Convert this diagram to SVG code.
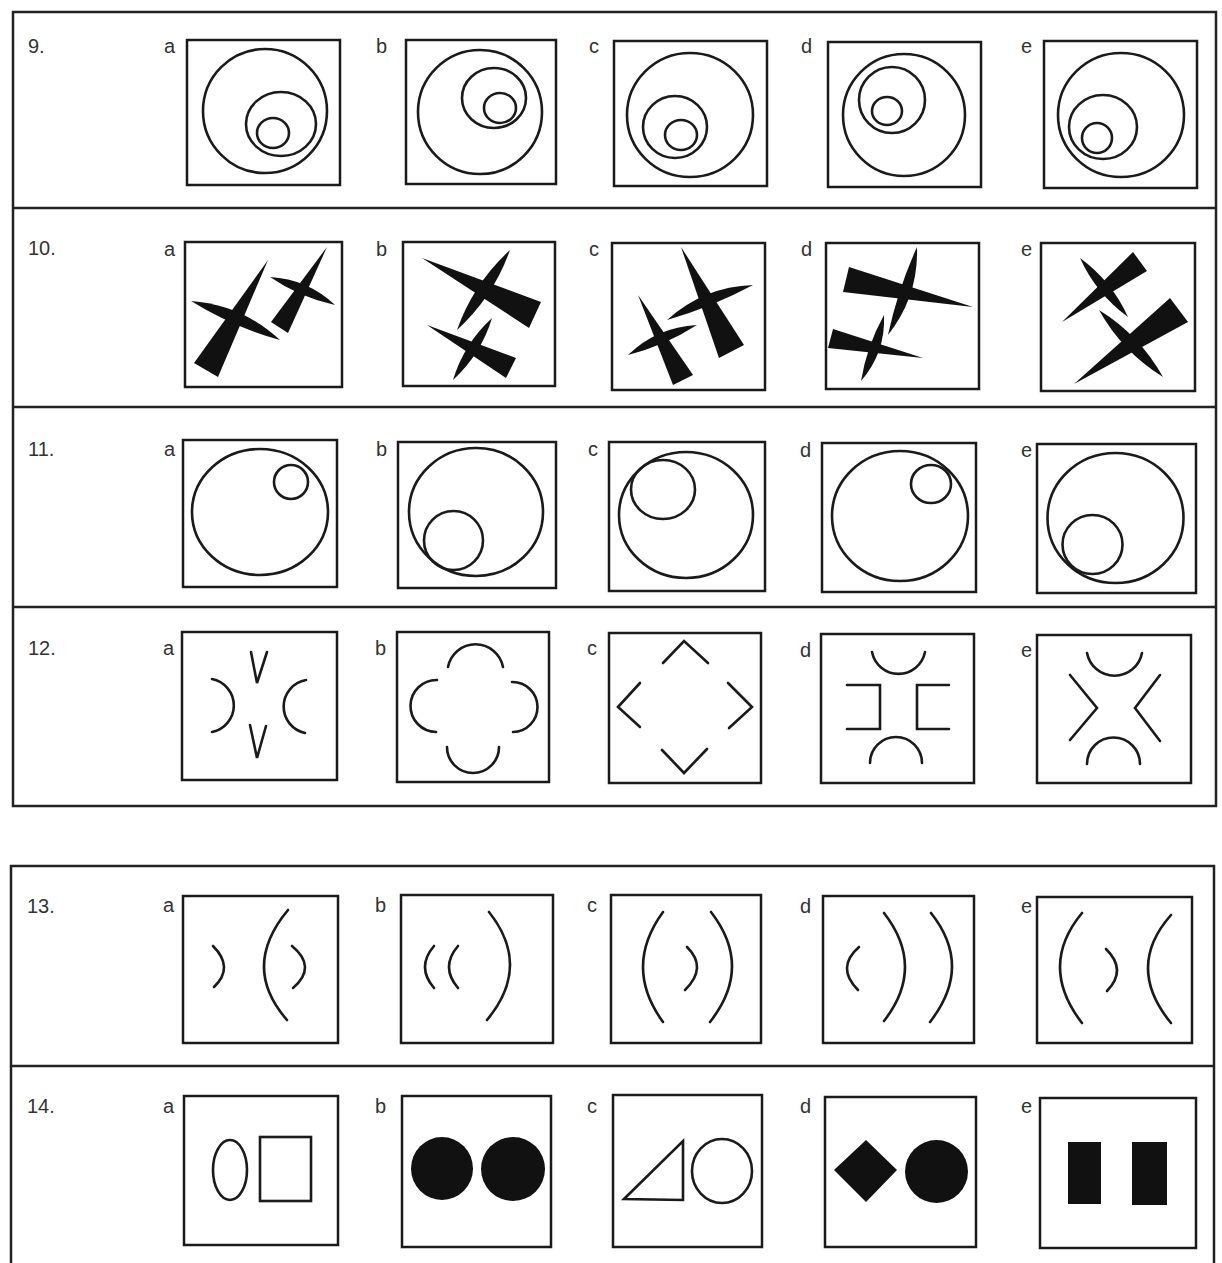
<svg xmlns="http://www.w3.org/2000/svg" width="1222" height="1263" viewBox="0 0 1222 1263">
<style>
.frame{fill:none;stroke:#222;stroke-width:2.5}
.box{fill:none;stroke:#1a1a1a;stroke-width:2.5}
.ln{fill:none;stroke:#1a1a1a;stroke-width:2.6;stroke-linecap:round;stroke-linejoin:miter}
.blk{fill:#111;stroke:none}
.lbl{font-family:"Liberation Sans",Arial,sans-serif;font-size:20px;fill:#333}
</style>
<rect width="1222" height="1263" fill="#ffffff"/>
<g id="frames">
<rect class="frame" x="13" y="12" width="1203" height="794"/>
<line class="frame" x1="13" y1="208" x2="1216" y2="208"/>
<line class="frame" x1="13" y1="407" x2="1216" y2="407"/>
<line class="frame" x1="13" y1="607" x2="1216" y2="607"/>
<polyline class="frame" points="11,1263 11,866 1214,866 1214,1263"/>
<line class="frame" x1="11" y1="1066" x2="1214" y2="1066"/>
</g>
<g id="numbers">
<text class="lbl" x="28" y="53">9.</text>
<text class="lbl" x="28" y="255">10.</text>
<text class="lbl" x="28" y="456">11.</text>
<text class="lbl" x="28" y="655">12.</text>
<text class="lbl" x="27" y="913">13.</text>
<text class="lbl" x="27" y="1113">14.</text>
</g>
<!-- Row 9 -->
<g id="q9a"><text class="lbl" x="164" y="53">a</text><rect class="box" x="187" y="40" width="153" height="145"/>
<circle class="ln" cx="265" cy="111" r="62"/><ellipse class="ln" cx="281" cy="124" rx="35" ry="32"/><ellipse class="ln" cx="273" cy="133" rx="16" ry="15"/></g>
<g id="q9b"><text class="lbl" x="376" y="53">b</text><rect class="box" x="406" y="40" width="150" height="144"/>
<circle class="ln" cx="480" cy="112" r="62"/><ellipse class="ln" cx="494" cy="98" rx="32" ry="30"/><ellipse class="ln" cx="500" cy="108" rx="16" ry="15"/></g>
<g id="q9c"><text class="lbl" x="589" y="53">c</text><rect class="box" x="614" y="41" width="153" height="145"/>
<ellipse class="ln" cx="690" cy="115" rx="63" ry="62"/><ellipse class="ln" cx="675" cy="127" rx="32" ry="31"/><ellipse class="ln" cx="681" cy="135" rx="16" ry="15"/></g>
<g id="q9d"><text class="lbl" x="801" y="53">d</text><rect class="box" x="828" y="42" width="153" height="145"/>
<circle class="ln" cx="904" cy="115" r="61"/><circle class="ln" cx="892" cy="100" r="33"/><ellipse class="ln" cx="887" cy="111" rx="15" ry="14"/></g>
<g id="q9e"><text class="lbl" x="1021" y="53">e</text><rect class="box" x="1044" y="41" width="153" height="147"/>
<ellipse class="ln" cx="1121" cy="115" rx="63" ry="62"/><ellipse class="ln" cx="1103" cy="127" rx="34" ry="32"/><circle class="ln" cx="1097" cy="138" r="15"/></g>
<!-- Row 10 -->
<g id="q10a"><text class="lbl" x="164" y="256">a</text><rect class="box" x="185" y="242" width="157" height="145"/>
<polygon class="blk" points="194,363 218,377 268,260"/>
<path class="blk" d="M191,301 Q232.7,326.9 280,340 Q242.3,304.9 191,301 Z"/>
<polygon class="blk" points="271,322 288,333 327,247"/>
<path class="blk" d="M270,277 Q299.7,297.4 335,305 Q307.6,279.1 270,277 Z"/></g>
<g id="q10b"><text class="lbl" x="376" y="256">b</text><rect class="box" x="403" y="242" width="152" height="144"/>
<polygon class="blk" points="541,302 529,328 422,258"/>
<path class="blk" d="M510,250 Q473.5,283.4 457,330 Q493.5,296.6 510,250 Z"/>
<polygon class="blk" points="516,358 506,378 427,325"/>
<path class="blk" d="M492,318 Q464,343.7 453,380 Q481,354.3 492,318 Z"/></g>
<g id="q10c"><text class="lbl" x="589" y="256">c</text><rect class="box" x="612" y="243" width="153" height="147"/>
<polygon class="blk" points="744,345 719,358 681,247"/>
<path class="blk" d="M667,320 Q711.9,307.1 753,285 Q703.6,286.7 667,320 Z"/>
<polygon class="blk" points="693,375 673,385 638,295"/>
<path class="blk" d="M628,355 Q664.9,345.5 697,325 Q656.9,327.1 628,355 Z"/></g>
<g id="q10d"><text class="lbl" x="801" y="256">d</text><rect class="box" x="826" y="243" width="153" height="146"/>
<polygon class="blk" points="849,267 843,292 973,307"/>
<path class="blk" d="M917,247 Q897.8,289.4 888,335 Q918.6,296.3 917,247 Z"/>
<polygon class="blk" points="833,329 828,348 923,358"/>
<path class="blk" d="M884,315 Q866.8,346 861,381 Q885.7,352.6 884,315 Z"/></g>
<g id="q10e"><text class="lbl" x="1021" y="256">e</text><rect class="box" x="1041" y="243" width="154" height="148"/>
<polygon class="blk" points="1147,271 1133,252 1062,322"/>
<path class="blk" d="M1080,258 Q1096.2,293.8 1128,317 Q1111.8,281.2 1080,258 Z"/>
<polygon class="blk" points="1188,322 1170,298 1074,384"/>
<path class="blk" d="M1099,310 Q1122.3,351.8 1163,377 Q1139.7,335.2 1099,310 Z"/></g>
<!-- Row 11 -->
<g id="q11a"><text class="lbl" x="164" y="456">a</text><rect class="box" x="183" y="440" width="154" height="147"/>
<ellipse class="ln" cx="260" cy="512" rx="68" ry="63"/><circle class="ln" cx="291" cy="482" r="17"/></g>
<g id="q11b"><text class="lbl" x="376" y="456">b</text><rect class="box" x="398" y="442" width="158" height="146"/>
<ellipse class="ln" cx="476" cy="512" rx="67" ry="64"/><circle class="ln" cx="453.5" cy="540.5" r="29.5"/></g>
<g id="q11c"><text class="lbl" x="588" y="456">c</text><rect class="box" x="609" y="442" width="156" height="149"/>
<ellipse class="ln" cx="686" cy="515" rx="67" ry="63"/><ellipse class="ln" cx="663" cy="489.5" rx="32" ry="29.5"/></g>
<g id="q11d"><text class="lbl" x="800" y="457">d</text><rect class="box" x="822" y="443" width="154" height="149"/>
<ellipse class="ln" cx="900" cy="516" rx="68" ry="65"/><ellipse class="ln" cx="931" cy="484" rx="20" ry="19"/></g>
<g id="q11e"><text class="lbl" x="1021" y="457">e</text><rect class="box" x="1037" y="444" width="159" height="149"/>
<ellipse class="ln" cx="1115.5" cy="518" rx="68" ry="65"/><ellipse class="ln" cx="1092.5" cy="544.5" rx="30" ry="29.5"/></g>
<!-- Row 12 -->
<g id="q12a"><text class="lbl" x="163" y="655">a</text><rect class="box" x="182" y="632" width="155" height="148"/>
<path class="ln" d="M212,679 A27,27 0 0 1 212,732"/><path class="ln" d="M306,680 A27,27 0 0 0 305,733"/>
<polyline class="ln" points="251,652 257,683 267,652"/><polyline class="ln" points="250,725 257,758 266,726"/></g>
<g id="q12b"><text class="lbl" x="375" y="655">b</text><rect class="box" x="397" y="632" width="152" height="150"/>
<path class="ln" d="M448,667 A28,28 0 0 1 503,667"/><path class="ln" d="M447,747 A26,26 0 0 0 499,747"/>
<path class="ln" d="M437,680 A26,26 0 0 0 436,732"/><path class="ln" d="M512,682 A25,25 0 0 1 513,732"/></g>
<g id="q12c"><text class="lbl" x="587" y="655">c</text><rect class="box" x="609" y="633" width="152" height="150"/>
<polyline class="ln" points="663,663 684,641 708,663"/><polyline class="ln" points="640,683 618,707 640,727"/>
<polyline class="ln" points="728,683 752,707 729,728"/><polyline class="ln" points="662,750 684,773 707,749"/></g>
<g id="q12d"><text class="lbl" x="800" y="657">d</text><rect class="box" x="821" y="634" width="153" height="149"/>
<path class="ln" d="M872,652 A27,27 0 0 0 925,652"/><path class="ln" d="M870,763 A26,26 0 0 1 922,763"/>
<polyline class="ln" points="847,685 880,685 880,729 847,729"/><polyline class="ln" points="949,685 917,685 917,729 949,729"/></g>
<g id="q12e"><text class="lbl" x="1021" y="657">e</text><rect class="box" x="1037" y="635" width="154" height="148"/>
<path class="ln" d="M1087,653 A28,28 0 0 0 1142,653"/><path class="ln" d="M1087,764 A26.5,26.5 0 0 1 1140,764"/>
<polyline class="ln" points="1070,675 1097,708 1070,740"/><polyline class="ln" points="1160,675 1135,708 1160,741"/></g>
<!-- Row 13 -->
<g id="q13a"><text class="lbl" x="163" y="912">a</text><rect class="box" x="183" y="896" width="155" height="147"/>
<path class="ln" d="M213,946 Q234.5,967.5 214,987"/><path class="ln" d="M288,910 Q240.5,967 287,1020"/><path class="ln" d="M292,946 Q317.5,967 293,988"/></g>
<g id="q13b"><text class="lbl" x="375" y="912">b</text><rect class="box" x="401" y="895" width="152" height="148"/>
<path class="ln" d="M434,946 Q416,967 434,988"/><path class="ln" d="M458,946 Q440,967 458,988"/><path class="ln" d="M489,912 Q532,966 487,1020"/></g>
<g id="q13c"><text class="lbl" x="587" y="912">c</text><rect class="box" x="611" y="895" width="150" height="148"/>
<path class="ln" d="M663,912 Q623,967 663,1022"/><path class="ln" d="M711,912 Q753.5,967 710,1022"/><path class="ln" d="M687,947 Q708,967.5 685,990"/></g>
<g id="q13d"><text class="lbl" x="800" y="913">d</text><rect class="box" x="823" y="896" width="151" height="147"/>
<path class="ln" d="M859,947 Q835.5,967.5 858,990"/><path class="ln" d="M884,913 Q926,967 884,1021"/><path class="ln" d="M931,913 Q973.5,966.5 930,1022"/></g>
<g id="q13e"><text class="lbl" x="1021" y="913">e</text><rect class="box" x="1037" y="897" width="155" height="146"/>
<path class="ln" d="M1082,913 Q1038,966 1082,1023"/><path class="ln" d="M1106,949 Q1127.5,970 1107,991"/><path class="ln" d="M1171,915 Q1125,967 1171,1023"/></g>
<!-- Row 14 -->
<g id="q14a"><text class="lbl" x="163" y="1113">a</text><rect class="box" x="184" y="1096" width="154" height="149"/>
<ellipse class="ln" cx="230" cy="1170" rx="17" ry="30"/><rect class="ln" x="260" y="1137" width="51" height="64"/></g>
<g id="q14b"><text class="lbl" x="375" y="1113">b</text><rect class="box" x="402" y="1096" width="149" height="151"/>
<ellipse class="blk" cx="442" cy="1168.5" rx="31" ry="31.5"/><ellipse class="blk" cx="513" cy="1169" rx="32" ry="32"/></g>
<g id="q14c"><text class="lbl" x="587" y="1113">c</text><rect class="box" x="613" y="1095" width="149" height="152"/>
<polygon class="ln" points="624,1199 683,1141 683,1200"/><ellipse class="ln" cx="722" cy="1171" rx="30" ry="32"/></g>
<g id="q14d"><text class="lbl" x="800" y="1113">d</text><rect class="box" x="825" y="1097" width="151" height="150"/>
<polygon class="blk" points="834,1170 866,1140 897,1170 866,1202"/><ellipse class="blk" cx="936.5" cy="1171.5" rx="31.5" ry="31.5"/></g>
<g id="q14e"><text class="lbl" x="1021" y="1113">e</text><rect class="box" x="1040" y="1098" width="156" height="150"/>
<rect class="blk" x="1068" y="1142" width="33" height="62"/><rect class="blk" x="1132" y="1142" width="35" height="63"/></g>
</svg>
